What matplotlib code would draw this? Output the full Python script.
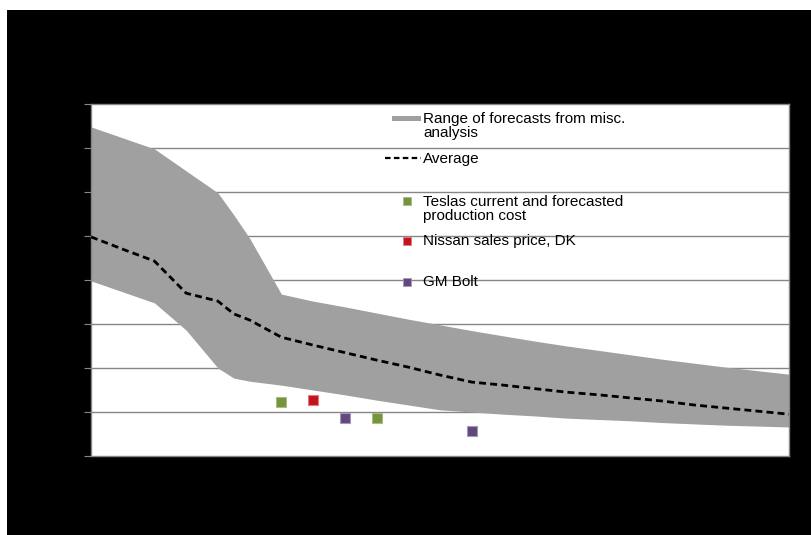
import matplotlib
matplotlib.use("Agg")
import matplotlib.pyplot as plt
from matplotlib.patches import Rectangle
from matplotlib.lines import Line2D

plt.rcParams['font.family'] = ['Liberation Sans', 'DejaVu Sans']

# Forecast years (a half-year breakpoint in 2012)
years = [2008, 2009, 2010, 2011, 2012, 2012.5, 2013, 2014, 2015, 2016, 2017,
         2018, 2019, 2020, 2021, 2022, 2023, 2024, 2025, 2026, 2027, 2028,
         2029, 2030]

# Upper / lower edge of the forecast range
range_high = [748, 723, 698, 648, 598, 548, 495, 368, 352, 339, 325, 311, 298,
              285, 273, 261, 250, 240, 230, 220, 211, 202, 194, 186]
range_low = [398, 373, 348, 286, 200, 177, 170, 161, 150, 139, 127, 116, 105,
             100, 95, 91, 86, 83, 80, 76, 73, 70, 68, 66]
# Average of forecasts
average = [498, 470, 443, 370, 352, 323, 309, 270, 252, 235, 218, 202, 184,
           168, 161, 153, 145, 139, 132, 125, 116, 109, 102, 95]

# Observed data points
tesla_years = [2014, 2017]
tesla_values = [123, 86]
nissan_years = [2015]
nissan_values = [127]
gm_years = [2016, 2020]
gm_values = [86, 57]

legend_labels = ["Range of forecasts from misc.\nanalysis", "Average",
                 "Teslas current and forecasted\nproduction cost",
                 "Nissan sales price, DK", "GM Bolt"]

GREY_BAND = "#A0A0A0"
GREEN = "#77933C"
RED = "#C3141E"
PURPLE = "#604A7B"
GRID = "#868686"

W, H = 812, 535
fig = plt.figure(figsize=(W / 100, H / 100), dpi=100, facecolor="white")

# black chart area
fig.patches.append(Rectangle((7 / W, 0), (W - 7) / W, (H - 10) / H,
                             transform=fig.transFigure, facecolor="black",
                             edgecolor="none", zorder=0))

L, R, T, B = 91, 789, 104, 456
ax = fig.add_axes([L / W, (H - B) / H, (R - L) / W, (B - T) / H])
ax.set_facecolor("white")
ax.set_zorder(1)

ax.set_xlim(2008, 2030)
ax.set_ylim(0, 800)
ax.set_yticks(range(0, 801, 100))
ax.set_xticks([])
ax.tick_params(axis="y", length=5, color=GRID, labelleft=False)
for s in ax.spines.values():
    s.set_color(GRID)
    s.set_linewidth(1)

for v in range(100, 800, 100):
    ax.axhline(v, color=GRID, lw=1, zorder=1)

ax.fill_between(years, range_low, range_high, color=GREY_BAND, lw=0, zorder=2)
ax.plot(years, average, color="black", lw=2, ls=(0, (2.5, 1.5)), zorder=3)

mk = dict(marker="s", ls="none", markersize=6.5, markeredgewidth=0.8, zorder=4)
ax.plot(tesla_years, tesla_values, color=GREEN, markeredgecolor="#A9BC85", **mk)
ax.plot(nissan_years, nissan_values, color=RED, markeredgecolor="#E07A80", **mk)
ax.plot(gm_years, gm_values, color=PURPLE, markeredgecolor="#A796BB", **mk)


# legend, placed by pixel position inside the plot area
def ax_xy(px, py):
    return (px - L) / (R - L), (B - py) / (B - T)


tx = 423
text_kw = dict(transform=ax.transAxes, fontsize=11, va="center", ha="left",
               color="black", linespacing=1.06, zorder=6)

x0, y0 = ax_xy(392, 116)
x1, y1 = ax_xy(421, 121)
ax.add_patch(Rectangle((x0, y1), x1 - x0, y0 - y1, transform=ax.transAxes,
                       facecolor=GREY_BAND, edgecolor="none", zorder=5))
ax.text(*ax_xy(tx, 126), legend_labels[0], **text_kw)

xa, ya = ax_xy(385, 158)
xb, _ = ax_xy(421, 158)
ax.add_line(Line2D([xa, xb], [ya, ya], transform=ax.transAxes, color="black",
                   lw=1.6, ls=(0, (2.5, 1.5)), zorder=5))
ax.text(*ax_xy(tx, 159), legend_labels[1], **text_kw)

leg_mk = dict(marker="s", markersize=5.5, markeredgewidth=0.6, ls="none",
              transform=ax.transAxes, zorder=5)
ax.add_line(Line2D(*[[v] for v in ax_xy(407, 201)], color=GREEN,
                   markeredgecolor="#A9BC85", **leg_mk))
ax.text(*ax_xy(tx, 209), legend_labels[2], **text_kw)

ax.add_line(Line2D(*[[v] for v in ax_xy(407, 241)], color=RED,
                   markeredgecolor="#E07A80", **leg_mk))
ax.text(*ax_xy(tx, 241), legend_labels[3], **text_kw)

ax.add_line(Line2D(*[[v] for v in ax_xy(407, 282)], color=PURPLE,
                   markeredgecolor="#A796BB", **leg_mk))
ax.text(*ax_xy(tx, 282), legend_labels[4], **text_kw)

fig.savefig("out.png", dpi=100, facecolor="white")
